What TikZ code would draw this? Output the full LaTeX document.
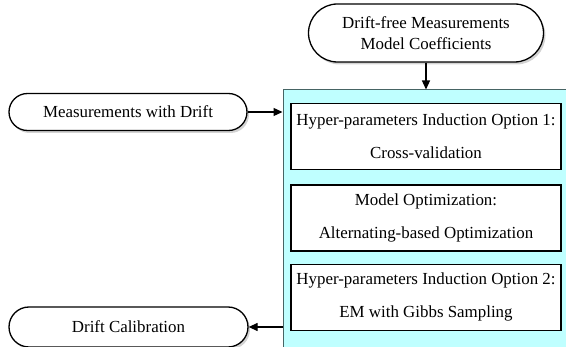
\documentclass[tikz,border=0pt]{standalone}
\usepackage{fontspec}
\setmainfont{Liberation Serif}
\usepackage{tikz}
\usetikzlibrary{shapes.misc}
\usetikzlibrary{shadows}
\usetikzlibrary{arrows.meta}
\usetikzlibrary{positioning}
\definecolor{panelcyan}{RGB}{191,255,255}
\definecolor{paneledge}{RGB}{70,100,100}

\begin{document}
\begin{tikzpicture}[x=1pt,y=-1pt,
  terminal/.style={rounded rectangle, draw, line width=1.3pt, fill=white, drop shadow={shadow xshift=2pt,shadow yshift=-2.5pt,opacity=0.35}, align=center, font=\fontsize{16.9}{21}\selectfont, inner sep=0pt},
  stepbox/.style={draw, line width=1.3pt, fill=white, minimum width=270pt, minimum height=66pt, align=center, font=\fontsize{16.9}{21}\selectfont, inner sep=0pt},
  flow/.style={line width=1.3pt, -{Triangle[length=9pt,width=8pt]}}]
\useasboundingbox (0,0) rectangle (566,347);
\clip (0,0) rectangle (566,347);

\node[terminal, minimum width=235pt, minimum height=58pt] (coef) at (426,33) {Drift-free Measurements\\Model Coefficients};
\node[terminal, minimum width=238pt, minimum height=37pt] (meas) at (128,112) {Measurements with Drift};
\node[terminal, minimum width=239pt, minimum height=40pt] (calib) at (128.5,327) {Drift Calibration};

\node[draw=paneledge, line width=0.8pt, fill=panelcyan, minimum width=340pt, minimum height=310pt, inner sep=0pt, anchor=north west] (panel) at (282.5,89.5) {};

\node[stepbox, anchor=north] (opt1) at (426,103) {Hyper-parameters Induction Option 1:\\[12pt]Cross-validation};
\node[stepbox, below=14pt of opt1] (modelopt) {Model Optimization:\\[12pt]Alternating-based Optimization};
\node[stepbox, below=12pt of modelopt] (opt2) {Hyper-parameters Induction Option 2:\\[12pt]EM with Gibbs Sampling};

\draw[flow] (coef.south) -- (coef.south |- panel.north);
\draw[flow] (meas.east) -- (meas.east -| panel.west);
\draw[flow] (calib.east -| panel.west) -- (calib.east);
\end{tikzpicture}
\end{document}
